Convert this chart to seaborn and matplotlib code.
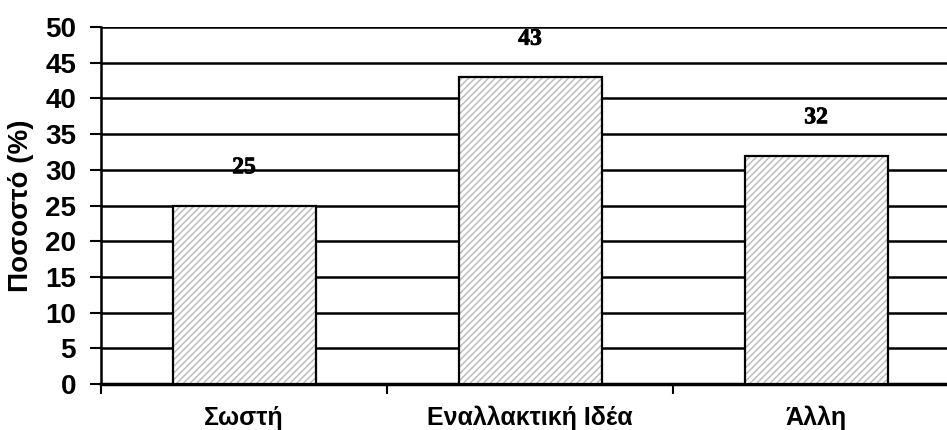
import matplotlib
matplotlib.use("Agg")
import matplotlib.pyplot as plt
import matplotlib.patheffects as pe
import seaborn as sns
import pandas as pd

# Δεδομένα
categories = ["Σωστή", "Εναλλακτική Ιδέα", "Άλλη"]
values = [25, 43, 32]
y_ticks = list(range(0, 55, 5))

df = pd.DataFrame({"cat": categories, "val": values})

sns.set_style("white")
plt.rcParams["font.family"] = ["Liberation Sans", "DejaVu Sans"]
plt.rcParams["hatch.linewidth"] = 1.1
for k in ["text.color", "axes.labelcolor", "xtick.color", "ytick.color"]:
    plt.rcParams[k] = "black"

fig = plt.figure(figsize=(9.47, 4.30), dpi=100)
ax = fig.add_axes([0.1067, 0.107, 0.906, 0.830])

# Capa 1: farciment amb ratllat gris
sns.barplot(data=df, x="cat", y="val", color="white", width=0.5,
            edgecolor="#bdbdbd", linewidth=0, ax=ax)
for p in ax.patches:
    p.set_hatch("/////")
    p.set_zorder(3)
n_fill = len(ax.patches)

# Capa 2: contorn negre
sns.barplot(data=df, x="cat", y="val", fill=False, color="black", width=0.5,
            linewidth=1.6, ax=ax)
for p in ax.patches[n_fill:]:
    p.set_edgecolor("black")
    p.set_zorder(4)

# Grid horitzontal negre
for y in y_ticks:
    ax.axhline(y, color="black", lw=1.8, zorder=1)

ax.set_ylim(0, 50)
ax.set_xlim(-0.5, 2.5)
ax.set_yticks(y_ticks)
ax.set_yticklabels([str(y) for y in y_ticks], fontsize=20, fontweight="bold")
ax.set_xticks([-0.5, 0.5, 1.5])
ax.set_xticklabels([])
ax.tick_params(axis="y", length=8, width=1.5, direction="out", left=True, pad=10)
ax.tick_params(axis="x", length=7, width=1.5, direction="out", bottom=True)

for i, c in enumerate(categories):
    ax.text(i, -4.8, c, ha="center", va="center", fontsize=18,
            fontweight="bold")

for s in ["top", "right"]:
    ax.spines[s].set_visible(False)
ax.spines["left"].set_linewidth(1.8)
ax.spines["bottom"].set_linewidth(2.5)
ax.spines["left"].set_color("black")
ax.spines["bottom"].set_color("black")

for i, v in enumerate(values):
    ax.text(i, v + 5.3, str(v), ha="center", va="center", fontsize=17,
            fontweight="bold", family=["Liberation Serif", "DejaVu Serif"],
            zorder=5,
            path_effects=[pe.withStroke(linewidth=0.6, foreground="black")])

ax.set_xlabel("")
ax.set_ylabel("Ποσοστό (%)", fontsize=20, fontweight="bold", labelpad=8)

fig.savefig("out.png", dpi=100)
